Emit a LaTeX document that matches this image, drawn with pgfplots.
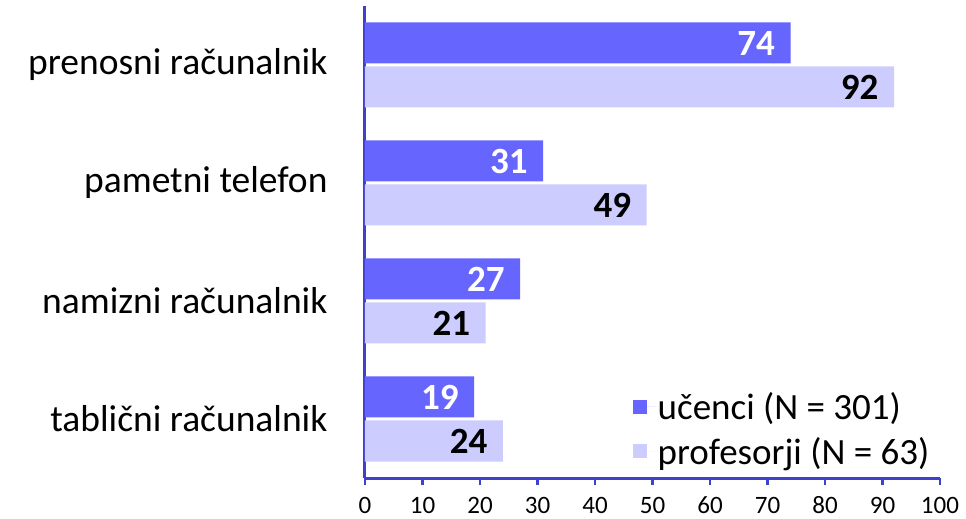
\documentclass[border=0pt]{standalone}
\usepackage{pgfplots}
\pgfplotsset{compat=1.18}
\usepackage{fontspec}
\setmainfont{Carlito}
\definecolor{ucenci}{RGB}{102,102,255}
\definecolor{prof}{RGB}{204,204,255}
\definecolor{axblue}{RGB}{64,64,208}
\begin{document}
\begin{tikzpicture}
\useasboundingbox (-365pt,-41pt) rectangle (601pt,478pt);
\begin{axis}[
    xbar,
    scale only axis,
    width=575pt, height=472pt,
    xmin=0, xmax=100,
    ymin=-0.5, ymax=3.5,
    xtick={0,10,...,100},
    xticklabels={0,10,20,30,40,50,60,70,80,90,100},
    ytick={0,1,2,3},
    yticklabels={tablični računalnik, namizni računalnik, pametni telefon, prenosni računalnik},
    axis x line*=bottom,
    axis y line*=left,
    axis line style={axblue, line width=3pt, -},
    xtick align=outside,
    major tick length=7pt,
    xtick style={axblue, line width=2.5pt},
    ytick style={draw=none},
    xticklabel style={font=\fontsize{25}{26}\selectfont, anchor=north,
        text height=16pt, text depth=0pt, inner sep=0pt, yshift=-12pt},
    yticklabel style={font=\fontsize{37.5}{40}\selectfont, xshift=-27pt},
    /pgf/number format/assume math mode=true,
    bar width=41pt,
    clip=false,
    nodes near coords,
    nodes near coords style={anchor=east, xshift=-12pt, font=\fontsize{37}{40}\selectfont\bfseries},
    legend style={at={(0.46,0.017)}, anchor=south west, draw=none, fill=none,
        font=\fontsize{37}{40}\selectfont, row sep=12pt},
    legend cell align=left,
    legend image code/.code={\path (0pt,0pt) -- (23pt,0pt);
        \fill (0pt,-7pt) rectangle (14pt,7pt);},
]
\addplot+[draw=none, fill=ucenci, bar shift=22pt,
    nodes near coords style={text=white}]
    coordinates {(19,0) (27,1) (31,2) (74,3)};
\addplot+[draw=none, fill=prof, bar shift=-22pt,
    nodes near coords style={text=black}]
    coordinates {(24,0) (21,1) (49,2) (92,3)};
\legend{učenci (N = 301), profesorji (N = 63)}
\end{axis}
\end{tikzpicture}
\end{document}
